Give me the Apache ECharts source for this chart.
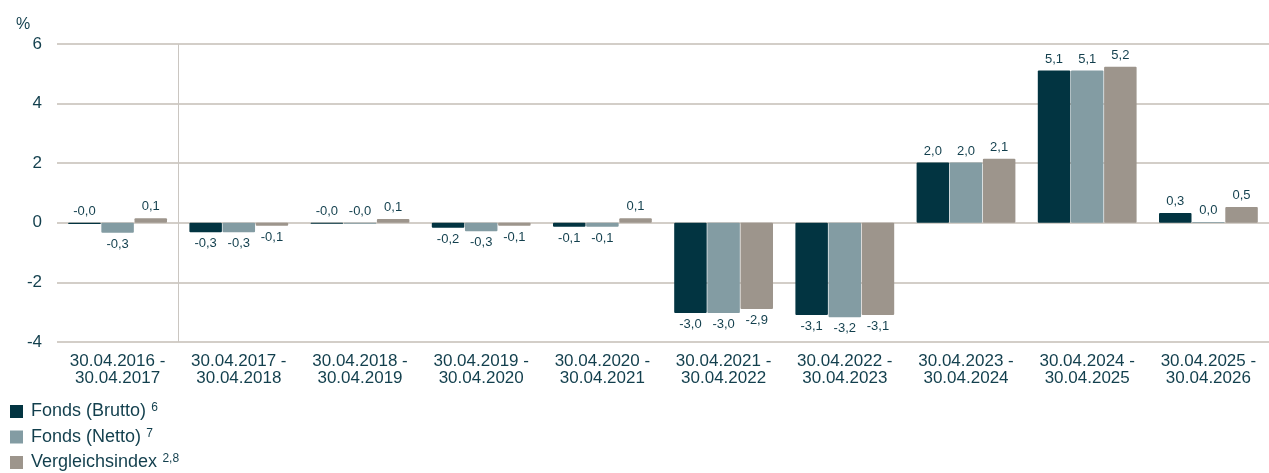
<!DOCTYPE html>
<html>
<head>
<meta charset="utf-8">
<script src="https://cdn.jsdelivr.net/npm/echarts@6/dist/echarts.min.js"></script>
<style>
  html, body { margin: 0; padding: 0; background: #fff; }
  #chart { width: 1269px; height: 473px; }
</style>
</head>
<body>
<div id="chart"></div>
<script>
const periods = [
  '30.04.2016 -\n30.04.2017', '30.04.2017 -\n30.04.2018', '30.04.2018 -\n30.04.2019',
  '30.04.2019 -\n30.04.2020', '30.04.2020 -\n30.04.2021', '30.04.2021 -\n30.04.2022',
  '30.04.2022 -\n30.04.2023', '30.04.2023 -\n30.04.2024', '30.04.2024 -\n30.04.2025',
  '30.04.2025 -\n30.04.2026'
]
const brutto = [-0.04, -0.32, -0.03, -0.17, -0.13, -3.03, -3.09, 2.02, 5.11, 0.33]
const netto = [-0.33, -0.32, -0.03, -0.28, -0.13, -3.03, -3.17, 2.02, 5.11, 0.03]
const vergleich = [0.15, -0.1, 0.13, -0.1, 0.15, -2.89, -3.09, 2.15, 5.24, 0.53]
const yTicks = [-4, -2, 0, 2, 4, 6]
const legendNames = ['Fonds (Brutto)', 'Fonds (Netto)', 'Vergleichsindex']
const footnotes = ['6', '7', '2,8']

const txt = '#123f4d'
const font = 'Liberation Sans, Arial, sans-serif'
const fmt = v => v.toFixed(1).replace('.', ',')

const toData = arr => arr.map(v => ({
  value: v,
  label: { position: v <= -0.05 ? 'bottom' : 'top' }
}))

const mkSeries = (name, arr, color) => ({
  name,
  type: 'bar',
  data: toData(arr),
  barWidth: 32.5,
  barGap: '2%',
  itemStyle: { color, borderRadius: 1 },
  label: {
    show: true,
    distance: 5,
    color: txt,
    fontSize: 13,
    fontFamily: font,
    formatter: p => fmt(p.value)
  }
})

// only the boundary after the first period gets a visible vertical line
const vColors = periods.map((p, i) => (i === 1 ? '#cac6c1' : 'rgba(0,0,0,0)'))
vColors.push('rgba(0,0,0,0)')

const chart = echarts.init(document.getElementById('chart'))
chart.setOption({
  animation: false,
  textStyle: { fontFamily: font },
  title: {
    text: '%',
    left: 11,
    top: 12,
    textStyle: { color: txt, fontSize: 16, fontWeight: 'normal', fontFamily: font }
  },
  grid: { left: 57, right: -7, top: 44, bottom: 131, containLabel: false },
  legend: {
    orient: 'vertical',
    left: 10,
    top: 402,
    height: 100,
    padding: 0,
    itemWidth: 13,
    itemHeight: 13,
    itemGap: 7,
    icon: 'rect',
    data: legendNames,
    formatter: name => '{a|' + name + '} {s|' + footnotes[legendNames.indexOf(name)] + '}',
    textStyle: {
      color: txt,
      fontFamily: font,
      rich: {
        a: { fontSize: 18, color: txt, fontFamily: font, padding: [0, 0, 0, 3] },
        s: { fontSize: 12, color: txt, fontFamily: font, padding: [0, 0, 7, 2] }
      }
    }
  },
  xAxis: {
    type: 'category',
    data: periods,
    axisLine: { show: false, onZero: false },
    axisTick: { show: false },
    axisLabel: {
      interval: 0,
      color: txt,
      fontSize: 17,
      lineHeight: 17,
      margin: 11,
      fontFamily: font
    },
    splitLine: {
      show: true,
      interval: 0,
      lineStyle: { color: vColors, width: 1 }
    }
  },
  yAxis: {
    type: 'value',
    min: yTicks[0],
    max: yTicks[yTicks.length - 1],
    interval: 2,
    axisLine: { show: false },
    axisTick: { show: false },
    axisLabel: { color: txt, fontSize: 17, margin: 15, fontFamily: font },
    splitLine: { lineStyle: { color: '#d3cec8', width: 2 } }
  },
  series: [
    mkSeries(legendNames[0], brutto, '#023441'),
    mkSeries(legendNames[1], netto, '#839ca3'),
    mkSeries(legendNames[2], vergleich, '#9d958c')
  ]
})
</script>
</body>
</html>
